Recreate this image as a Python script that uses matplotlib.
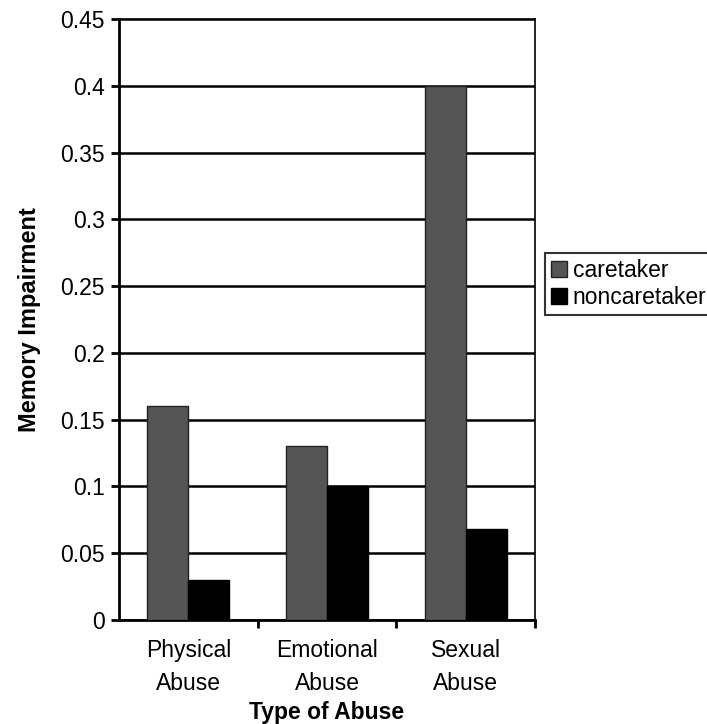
import matplotlib
matplotlib.use("Agg")
import matplotlib.pyplot as plt
import numpy as np

plt.rcParams['font.family'] = ['Liberation Sans', 'DejaVu Sans']

categories = ['Physical\nAbuse', 'Emotional\nAbuse', 'Sexual\nAbuse']
caretaker = [0.16, 0.13, 0.40]
noncaretaker = [0.03, 0.10, 0.068]
yticks = [0, 0.05, 0.1, 0.15, 0.2, 0.25, 0.3, 0.35, 0.4, 0.45]
ytick_labels = ['0', '0.05', '0.1', '0.15', '0.2', '0.25', '0.3', '0.35', '0.4', '0.45']

fs = 16.5

fig = plt.figure(figsize=(7.07, 7.24), dpi=100)
ax = fig.add_axes([0.1683, 0.1436, 0.5884, 0.8301])

x = np.arange(len(categories))
w = 0.295
ax.bar(x - w / 2, caretaker, w, color='#555555', edgecolor='#222222', linewidth=1,
       label='caretaker', zorder=3)
ax.bar(x + w / 2, noncaretaker, w, color='black', edgecolor='black', linewidth=1,
       label='noncaretaker', zorder=3)

ax.set_xlim(-0.5, 2.5)
ax.set_ylim(0, 0.45)
ax.set_yticks(yticks)
ax.set_yticklabels(ytick_labels, fontsize=fs)
ax.yaxis.grid(True, color='black', linewidth=1.8, zorder=0)
ax.set_axisbelow(True)

# category labels centred, ticks between categories
ax.set_xticks(x)
ax.set_xticklabels(categories, fontsize=fs, linespacing=1.55)
ax.tick_params(axis='x', length=0, pad=14)
ax.set_xticks([0.5, 1.5, 2.5], minor=True)
ax.tick_params(axis='x', which='minor', length=6, width=2, direction='out')
ax.tick_params(axis='y', length=6, width=2, direction='out', pad=4)

for s in ax.spines.values():
    s.set_linewidth(2)
ax.spines['top'].set_linewidth(1.2)
ax.spines['right'].set_linewidth(1.2)

ax.set_ylabel('Memory Impairment', fontsize=17, fontweight='bold', labelpad=14)
ax.set_xlabel('Type of Abuse', fontsize=fs, fontweight='bold', labelpad=4)

leg = fig.legend(loc='upper left', bbox_to_anchor=(545 / 707, 1 - 253 / 724),
                 fontsize=fs, frameon=True, fancybox=False, edgecolor='black',
                 handlelength=0.7, handleheight=0.7, handletextpad=0.25,
                 borderpad=0.25, labelspacing=0.2, borderaxespad=0)
leg.get_frame().set_linewidth(1.5)

fig.savefig('out.png', dpi=100)
